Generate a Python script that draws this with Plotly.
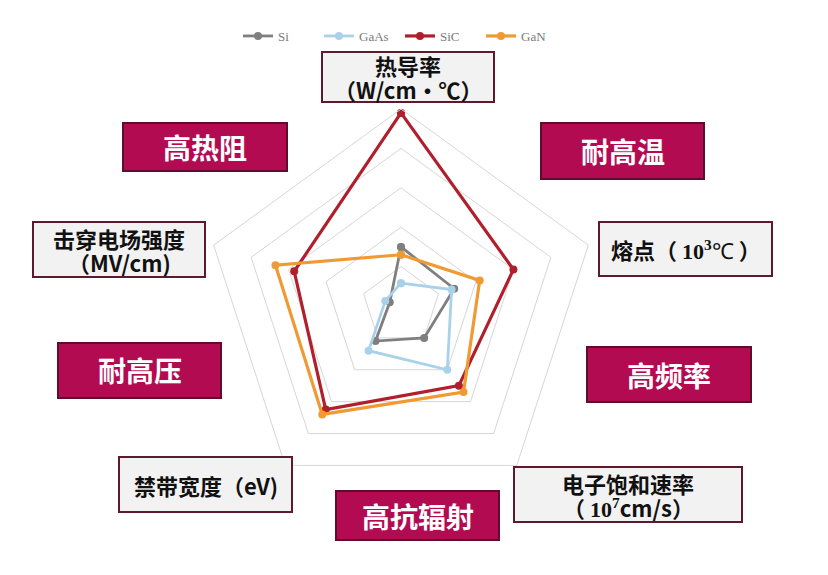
import plotly.graph_objects as go

# axes of the radar, clockwise from the top
categories = ['热导率', '熔点', '电子饱和速率', '禁带宽度', '击穿电场强度']

si = [1.5, 1.42, 1.0, 1.1, 0.3]
gaas = [0.58, 1.35, 2.0, 1.4, 0.42]
sic = [4.9, 3.0, 2.5, 3.25, 2.85]
gan = [1.3, 2.1, 2.7, 3.4, 3.35]

series_names = ['Si', 'GaAs', 'SiC', 'GaN']
series_values = [si, gaas, sic, gan]
series_colors = ['#7f7f7f', '#a9d2ea', '#b11f2d', '#ef9a33']

W, H = 828, 575
OFF = 8  # page body margin, pixel positions below are measured on the screenshot


def px(x, y):
    return (x - OFF) / W, 1 - (y - OFF) / H


fig = go.Figure()
for name, vals, col in zip(series_names, series_values, series_colors):
    wide = name in ('SiC', 'GaN')
    fig.add_trace(go.Scatterpolar(
        r=vals + vals[:1], theta=categories + categories[:1],
        mode='lines+markers', name=name,
        line=dict(color=col, width=3.2 if wide else 2.8),
        marker=dict(color=col, size=8),
    ))

# polar area: centre (401,306), radius 197 px
cx, cy, rad = 401, 306, 197
dx0, dy1 = px(cx - rad, cy - rad)
dx1, dy0 = px(cx + rad, cy + rad)
lx, ly = px(238, 36)
fig.update_layout(
    width=W, height=H,
    margin=dict(l=0, r=0, t=0, b=0),
    paper_bgcolor='white',
    polar=dict(
        domain=dict(x=[dx0, dx1], y=[dy0, dy1]),
        bgcolor='white',
        gridshape='linear',
        radialaxis=dict(range=[0, 5], dtick=1, showticklabels=False, ticks='',
                        showline=False, gridcolor='#d6d6d6', gridwidth=1),
        angularaxis=dict(direction='clockwise', rotation=90, showticklabels=False,
                         ticks='', showgrid=False, showline=True,
                         linecolor='#d6d6d6', linewidth=1),
    ),
    legend=dict(orientation='h', x=lx, y=ly, xanchor='left', yanchor='middle',
                font=dict(family='Liberation Serif', size=13, color='#7a7a7a'),
                entrywidth=36, entrywidthmode='pixels',
                itemwidth=30, bgcolor='rgba(0,0,0,0)'),
    font=dict(family='Noto Sans CJK SC'),
)

SERIF = '<span style="font-family:Liberation Serif">'
# grey property boxes: (lines, left, top, right, bottom)
grey_boxes = [
    (['<b>热导率</b>', '<b>（W/cm・℃）</b>'], 322, 52, 494, 102),
    (['<b>熔点（ ' + SERIF + '10<sup>3</sup></span></b>' + SERIF + '℃</span><b> ）</b>'],
     599, 222, 772, 276),
    (['<b>电子饱和速率</b>', '<b>（ ' + SERIF + '10<sup>7</sup></span>cm/s）</b>'],
     514, 467, 742, 522),
    (['<b>禁带宽度（eV)</b>'], 119, 457, 292, 512),
    (['<b>击穿电场强度</b>', '<b>（MV/cm)</b>'], 33, 222, 205, 277),
]
# magenta highlight boxes
red_boxes = [
    ('高热阻', 123, 123, 287, 171),
    ('耐高温', 541, 123, 704, 179),
    ('耐高压', 58, 343, 221, 398),
    ('高频率', 587, 347, 751, 402),
    ('高抗辐射', 336, 491, 499, 540),
]

for lines, x0, y0, x1, y1 in grey_boxes:
    ax0, ay1 = px(x0, y0)
    ax1, ay0 = px(x1, y1)
    fig.add_shape(type='rect', xref='paper', yref='paper',
                  x0=ax0, x1=ax1, y0=ay0, y1=ay1,
                  fillcolor='#f2f2f2', line=dict(color='#5c1a2c', width=2))
    mid = (y0 + y1) / 2
    for i, line in enumerate(lines):
        ty = mid + (i - (len(lines) - 1) / 2) * 24
        _, ay = px(0, ty)
        fig.add_annotation(x=(ax0 + ax1) / 2, y=ay, xref='paper', yref='paper',
                           text=line, showarrow=False, xanchor='center', yanchor='middle',
                           font=dict(size=22, color='#111111'))

for text, x0, y0, x1, y1 in red_boxes:
    ax0, ay1 = px(x0, y0)
    ax1, ay0 = px(x1, y1)
    fig.add_shape(type='rect', xref='paper', yref='paper',
                  x0=ax0, x1=ax1, y0=ay0, y1=ay1,
                  fillcolor='#b20b52', line=dict(color='#5e0d2c', width=2))
    fig.add_annotation(x=(ax0 + ax1) / 2, y=(ay0 + ay1) / 2, xref='paper', yref='paper',
                       text='<b>' + text + '</b>', showarrow=False,
                       xanchor='center', yanchor='middle',
                       font=dict(size=28, color='white'))

fig.write_html('out.html')
